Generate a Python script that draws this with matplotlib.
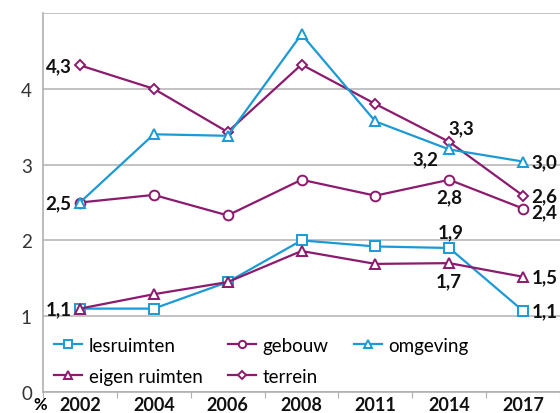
import matplotlib
matplotlib.use("Agg")
import matplotlib.pyplot as plt
import numpy as np

years = ["2002", "2004", "2006", "2008", "2011", "2014", "2017"]
lesruimten = [1.1, 1.1, 1.45, 2.0, 1.92, 1.9, 1.07]
eigen_ruimten = [1.1, 1.29, 1.45, 1.86, 1.69, 1.7, 1.52]
gebouw = [2.5, 2.6, 2.33, 2.8, 2.59, 2.8, 2.42]
omgeving = [2.5, 3.4, 3.38, 4.72, 3.57, 3.2, 3.04]
terrein = [4.31, 4.0, 3.43, 4.32, 3.8, 3.3, 2.59]
yticks = [0, 1, 2, 3, 4]

BLUE = "#1b9ad6"
PURPLE = "#8c1a6e"

plt.rcParams['font.family'] = ['Lato', 'DejaVu Sans']

fig = plt.figure(figsize=(5.6, 4.14), dpi=100)
ax = fig.add_axes([43/560, 1-393/414, 1-43/560, (393-14)/414])

x = np.arange(len(years))
common = dict(lw=1.6, mfc='white', mew=1.4, ms=7)
ax.plot(x, lesruimten, color=BLUE, marker='s', label='lesruimten', **common)
ax.plot(x, eigen_ruimten, color=PURPLE, marker='^', label='eigen ruimten', **common)
ax.plot(x, gebouw, color=PURPLE, marker='o', label='gebouw', **common)
ax.plot(x, terrein, color=PURPLE, marker='D', label='terrein', lw=1.6, mfc='white', mew=1.4, ms=5.5)
ax.plot(x, omgeving, color=BLUE, marker='^', label='omgeving', **common)

ax.set_xlim(-0.5, 6.5)
ax.set_ylim(0, 5)
ax.set_yticks(yticks)
ax.set_yticklabels([str(v) for v in yticks], fontsize=13.5, color='#333333')
ax.tick_params(axis='y', length=0, pad=8)
ax.set_xticks(np.arange(-0.5, 7, 1))
ax.set_xticklabels([])
ax.tick_params(axis='x', which='major', length=4, color='#b0b0b0', direction='out')
ax.set_xticks(x, minor=True)
ax.set_xticklabels(years, minor=True, fontsize=13, fontweight='bold', color='#111111')
ax.tick_params(axis='x', which='minor', length=0, pad=3)

ax.grid(axis='y', color='#b8b8b8', lw=1.2)
ax.set_axisbelow(True)
for s in ['top', 'right']:
    ax.spines[s].set_visible(False)
for s in ['left', 'bottom']:
    ax.spines[s].set_color('#b0b0b0')
    ax.spines[s].set_linewidth(1.2)

ax.axhline(5, color='#b8b8b8', lw=1.2, zorder=0)

def lab(xi, yv, txt, dx, dy, ha='center'):
    ax.annotate(txt, (xi, yv), xytext=(dx, dy), textcoords='offset points',
                ha=ha, va='center', fontsize=13.5, fontweight='bold', color='#111111')

lab(0, terrein[0], "4,3", -6, 0, 'right')
lab(0, gebouw[0], "2,5", -6, 0, 'right')
lab(0, lesruimten[0], "1,1", -6, 0, 'right')
lab(5, terrein[5], "3,3", 9, 10)
lab(5, omgeving[5], "3,2", -17, -6.5)
lab(5, gebouw[5], "2,8", 0, -12)
lab(5, lesruimten[5], "1,9", 1, 12)
lab(5, eigen_ruimten[5], "1,7", 0, -13)
lab(6, omgeving[6], "3,0", 6, 0, 'left')
lab(6, terrein[6], "2,6", 6, 0, 'left')
lab(6, gebouw[6], "2,4", 6, -2, 'left')
lab(6, eigen_ruimten[6], "1,5", 6, 0, 'left')
lab(6, lesruimten[6], "1,1", 6, 0, 'left')

leg = ax.legend(ncol=3, loc='upper left', bbox_to_anchor=(0.007, 0.165), frameon=False,
                fontsize=13.5, handlelength=1.5, columnspacing=1.35, labelspacing=0.75,
                handletextpad=0.35, markerscale=0.75, borderaxespad=0)

fig.text(40/560, 1/414, "%", fontsize=12, fontweight='bold', ha='center', va='bottom')

fig.savefig("out.png", dpi=100)
